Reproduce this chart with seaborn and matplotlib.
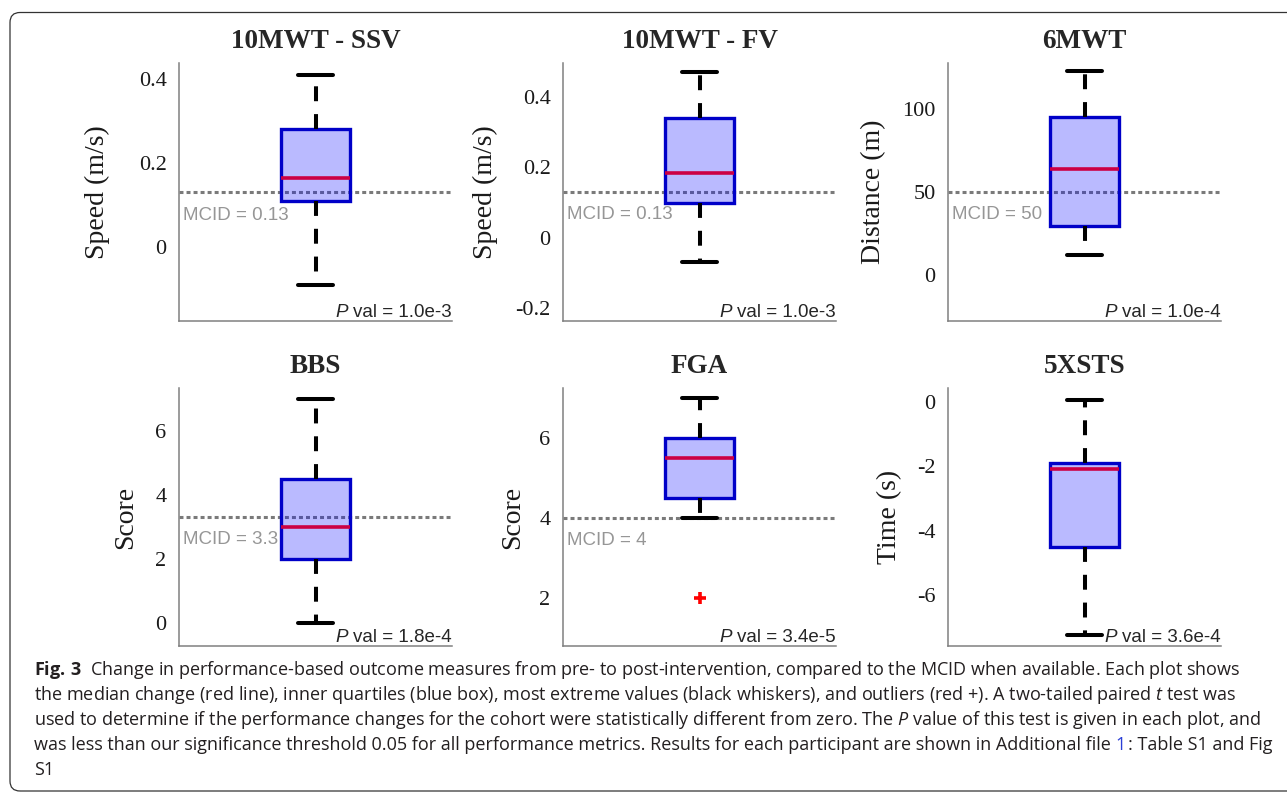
import numpy as np
import matplotlib
matplotlib.use("Agg")
import matplotlib.pyplot as plt
import matplotlib.transforms as mtransforms
from matplotlib.patches import FancyBboxPatch
from matplotlib.ticker import FuncFormatter
import seaborn as sns

# ---------------- data ----------------
titles = ["10MWT - SSV", "10MWT - FV", "6MWT", "BBS", "FGA", "5XSTS"]
ylabels = ["Speed (m/s)", "Speed (m/s)", "Distance (m)", "Score", "Score", "Time (s)"]
ssv = [-0.09, 0.11, 0.165, 0.28, 0.41]
fv = [-0.07, 0.10, 0.185, 0.34, 0.47]
mwt6 = [12, 29.5, 64, 95, 123]
bbs = [0, 2, 3, 4.5, 7]
fga = [2, 4, 5, 5.5, 6, 6, 7]
sts5 = [-7.25, -4.5, -2.1, -1.9, 0.05]
mcid = [0.13, 0.13, 50, 3.3, 4, None]
mcid_labels = ["MCID = 0.13", "MCID = 0.13", "MCID = 50", "MCID = 3.3", "MCID = 4", None]
pvals = ["1.0e-3", "1.0e-3", "1.0e-4", "1.8e-4", "3.4e-5", "3.6e-4"]
yticks = [[0, 0.2, 0.4], [-0.2, 0, 0.2, 0.4], [0, 50, 100],
          [0, 2, 4, 6], [2, 4, 6], [-6, -4, -2, 0]]
ylims = [(-0.176, 0.438), (-0.236, 0.496), (-27.7, 127.7),
         (-0.71, 7.33), (0.79, 7.24), (-7.59, 0.43)]
datasets = [ssv, fv, mwt6, bbs, fga, sts5]

caption_lines = [
    r"$\mathbf{Fig.\,3}$  Change in performance-based outcome measures from pre- to post-intervention, compared to the MCID when available. Each plot shows",
    r"the median change (red line), inner quartiles (blue box), most extreme values (black whiskers), and outliers (red +). A two-tailed paired $\mathit{t}$ test was",
    r"used to determine if the performance changes for the cohort were statistically different from zero. The $\mathit{P}$ value of this test is given in each plot, and",
    None,
    r"S1",
]
line4_prefix = "was less than our significance threshold 0.05 for all performance metrics. Results for each participant are shown in Additional file "
line4_link = "1"
line4_suffix = ": Table S1 and Fig"

# ---------------- style ----------------
sns.set_style("white")
cap_family = "Open Sans"
plt.rcParams["axes.unicode_minus"] = False
plt.rcParams["mathtext.fontset"] = "custom"
plt.rcParams["mathtext.rm"] = cap_family
plt.rcParams["mathtext.it"] = cap_family + ":italic"
plt.rcParams["mathtext.bf"] = cap_family + ":bold"

W, H = 1287, 793
fig = plt.figure(figsize=(W / 100, H / 100), dpi=100)
fig.patch.set_facecolor("white")

lefts = [179, 563, 948]
tops = [63, 388]
AW, AH = 273, 258
label_off = [81.5, 77.5, 74.5, 53, 50, 58.5]

fmt = FuncFormatter(lambda v, p: "%g" % v)

for i in range(6):
    r, c = divmod(i, 3)
    l, t = lefts[c], tops[r]
    ax = fig.add_axes([l / W, 1 - (t + AH) / H, AW / W, AH / H])
    sns.boxplot(
        y=datasets[i], ax=ax, width=0.256, whis=1.5, fill=True,
        linewidth=2.4, fliersize=9,
        boxprops=dict(facecolor=(0, 0, 1, 0.27), edgecolor="#0000c8",
                      linewidth=2.4, zorder=2),
        medianprops=dict(color="#cc0044", linewidth=2.6, zorder=3),
        whiskerprops=dict(color="black", linewidth=2.9,
                          linestyle=(0, (3.7, 3.2)), dash_capstyle="butt"),
        capprops=dict(color="black", linewidth=2.9, linestyle="-"),
        flierprops=dict(marker="+", markeredgecolor="red",
                        markerfacecolor="red", markersize=9,
                        markeredgewidth=2.6),
    )
    ax.set_xlim(-0.5, 0.5)
    ax.set_ylim(*ylims[i])
    ax.set_yticks(yticks[i])
    ax.yaxis.set_major_formatter(fmt)
    ax.set_xticks([0])
    ax.set_xticklabels([])
    ax.set_xlabel("")
    for s in ["top", "right"]:
        ax.spines[s].set_visible(False)
    for s in ["left", "bottom"]:
        ax.spines[s].set_color("#808080")
        ax.spines[s].set_linewidth(1.1)
    ax.tick_params(axis="y", direction="in", length=3, width=0.8,
                   color="#808080", pad=9, labelsize=16, labelcolor="#1a1a1a")
    ax.tick_params(axis="x", direction="in", length=3, width=0.8,
                   color="#808080", labelbottom=False)
    for lab in ax.get_yticklabels():
        lab.set_family("Liberation Serif")
    ax.set_title(titles[i], fontsize=19.5, fontweight="bold",
                 family="Liberation Serif", pad=11)
    ax.set_ylabel(ylabels[i], fontsize=20, family="Liberation Serif",
                  color="#1a1a1a")
    ax.yaxis.set_label_coords(-label_off[i] / AW, 0.5)
    ax.yaxis.label.set_va("center")

    if mcid[i] is not None:
        ax.axhline(mcid[i], color="#7a7a7a", lw=2.2,
                   linestyle=(0, (1.3, 1.0)), zorder=1.5)
        ax.annotate(mcid_labels[i], xy=(0, mcid[i]),
                    xycoords=ax.get_yaxis_transform(), xytext=(3, -19.5),
                    textcoords="offset points", va="baseline", ha="left",
                    color="#969696", fontsize=13.5, family="Liberation Sans",
                    zorder=1.8)

    tv = ax.text(1.0, 4 / AH, "val = " + pvals[i], transform=ax.transAxes,
                 ha="right", va="baseline", fontsize=13.5,
                 family="Liberation Sans", zorder=5)
    ax.annotate("P", xy=(0, 0), xycoords=tv, xytext=(-4, 0),
                textcoords="offset points", ha="right", va="bottom",
                style="italic", fontsize=13.5, family="Liberation Sans",
                annotation_clip=False, zorder=5)

# ---------------- caption ----------------
renderer = fig.canvas.get_renderer()
x0 = 34
full_line4 = line4_prefix + line4_link + line4_suffix
measure_lines = [caption_lines[0], caption_lines[1], caption_lines[2], full_line4]
targets = [1224, 1209, 1229, 1236]
scales = []
for s, tw in zip(measure_lines, targets):
    tmp = fig.text(0, 0, s, fontsize=12, family=cap_family)
    w12 = tmp.get_window_extent(renderer).width
    tmp.remove()
    scales.append(tw / w12)
cap_fs = 12 * min(scales)

baselines = [675, 700, 725, 750, 775]
for k, line in enumerate(caption_lines):
    if line is None:
        continue
    fig.text(x0 / W, 1 - baselines[k] / H, line, fontsize=cap_fs,
             family=cap_family, va="baseline", ha="left", color="#231f20")

# line 4 with the blue link number
tmp = fig.text(0, 0, line4_prefix + line4_link, fontsize=cap_fs, family=cap_family)
wp = tmp.get_window_extent(renderer).width
tmp.remove()
yb = 1 - baselines[3] / H
fig.text(x0 / W, yb, line4_prefix, fontsize=cap_fs, family=cap_family,
         va="baseline", ha="left", color="#231f20")
fig.text((x0 + wp) / W, yb, line4_link, fontsize=cap_fs, family=cap_family,
         va="baseline", ha="right", color="#2a3fd6")
fig.text((x0 + wp + 2) / W, yb, line4_suffix, fontsize=cap_fs,
         family=cap_family, va="baseline", ha="left", color="#231f20")

# ---------------- rounded frame ----------------
frame = FancyBboxPatch((10, 2), 1400, 778.5,
                       boxstyle="round,pad=0,rounding_size=10",
                       transform=mtransforms.IdentityTransform(),
                       facecolor="none", edgecolor="#333333", linewidth=0.9)
fig.add_artist(frame)

fig.savefig("out.png", dpi=100)
